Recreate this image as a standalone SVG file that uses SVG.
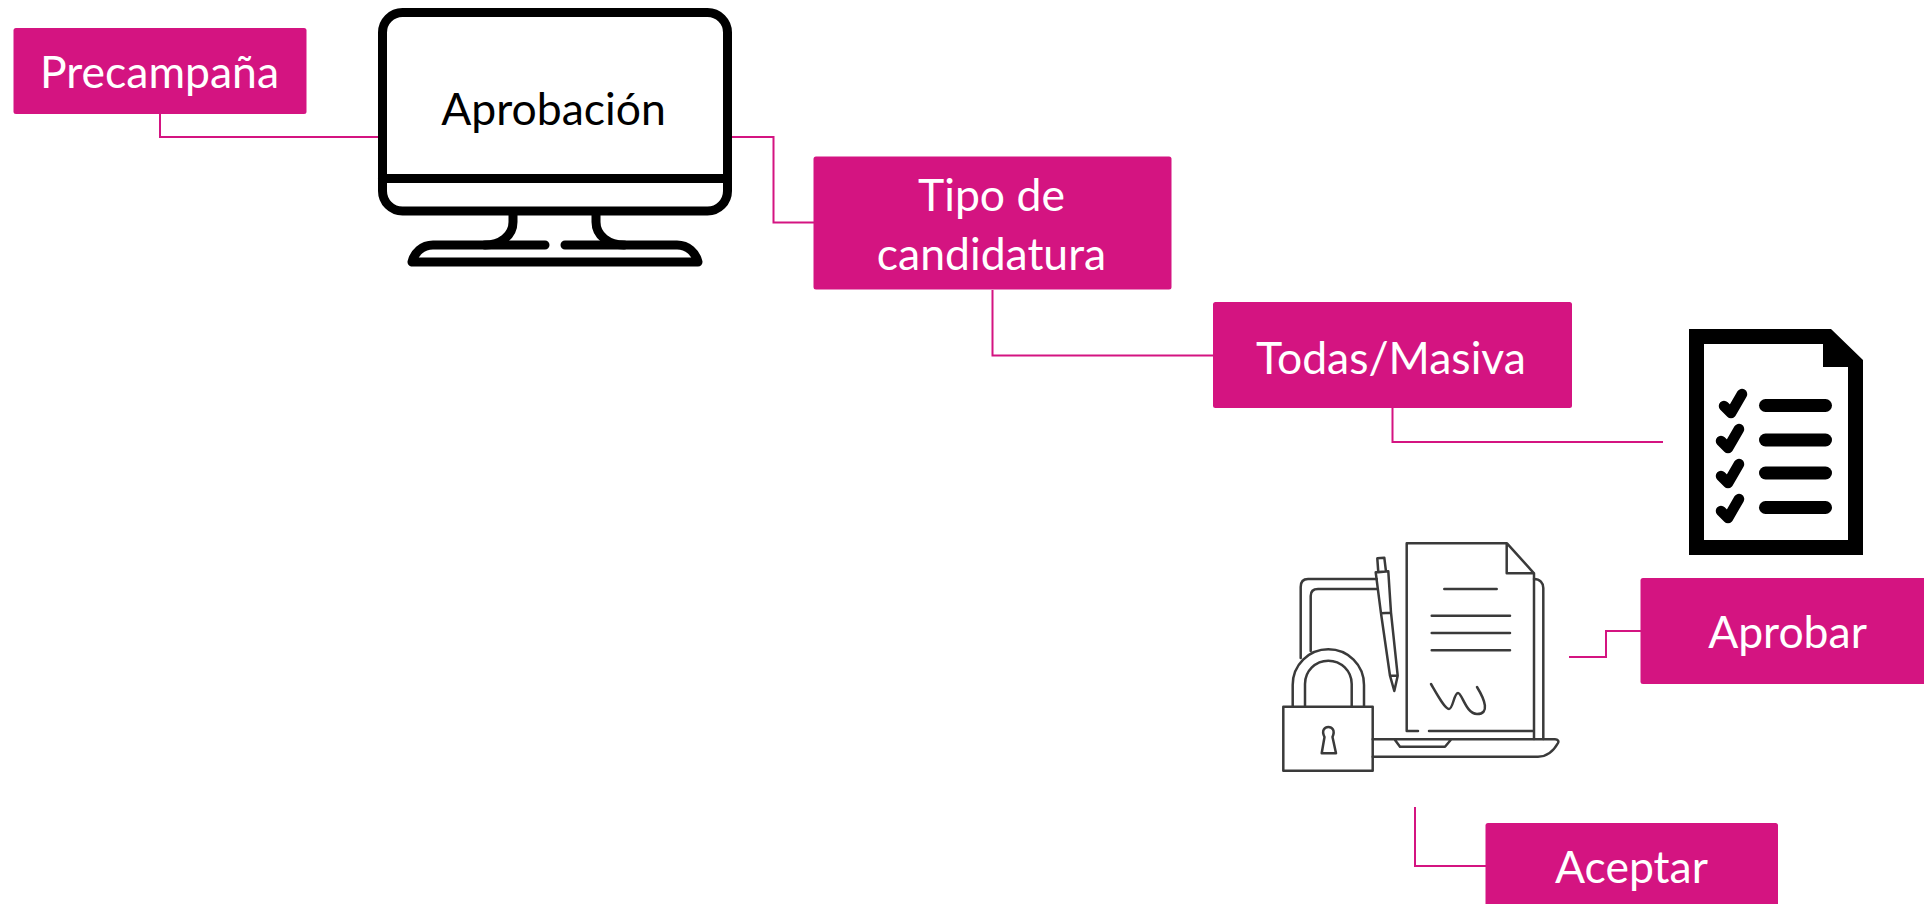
<svg xmlns="http://www.w3.org/2000/svg" width="1924" height="904" viewBox="0 0 1924 904">
<style>
.box{fill:#d41481}
.lbl{font-family:"Lato","Liberation Sans",sans-serif;font-size:44.500px;fill:#fff;text-anchor:middle}
.blk{fill:#000}
.conn{fill:none;stroke:#d41481;stroke-width:2}
.mon{fill:none;stroke:#000;stroke-width:9;stroke-linecap:round;stroke-linejoin:round}
.ico{fill:none;stroke:#3a3a3a;stroke-width:2.500;stroke-linecap:round;stroke-linejoin:round}
.chk{fill:none;stroke:#000;stroke-width:10.500;stroke-linecap:round;stroke-linejoin:round}
.bar{fill:#000}
</style>
<rect width="1924" height="904" fill="#fff"/>
<g id="connectors">
<path class="conn" d="M160 114V137H378"/>
<path class="conn" d="M732 137H773.500V222.500H814"/>
<path class="conn" d="M992.500 290V355.500H1213"/>
<path class="conn" d="M1392.500 408V442H1663"/>
<path class="conn" d="M1569 657H1606V631H1641"/>
<path class="conn" d="M1415 807V866H1486"/>
</g>
<g id="precampana">
<rect class="box" x="13.500" y="28" width="293" height="86" rx="2.500"/>
<text class="lbl" x="159.500" y="88">Precampaña</text>
</g>
<g id="aprobacion">
<rect class="mon" x="382.500" y="12.500" width="345" height="198.500" rx="20"/>
<path class="mon" d="M382.500 178.500H727.500"/>
<path class="mon" d="M513 215V222C513 236 500 245 485 245M596 215V222C596 236 609 245 624 245"/>
<path class="mon" d="M545 245H433C422 245 414 253 412 262H698C696 253 688 245 677 245H565"/>
<text x="553.500" y="125" font-family="Lato,'Liberation Sans',sans-serif" font-size="44.500px" fill="#000" text-anchor="middle">Aprobación</text>
</g>
<g id="tipo-candidatura">
<rect class="box" x="813.500" y="156.500" width="358" height="133" rx="2.500"/>
<text class="lbl" x="991.500" y="211">Tipo de</text>
<text class="lbl" x="991.500" y="269.500">candidatura</text>
</g>
<g id="todas-masiva">
<rect class="box" x="1213" y="302" width="359" height="106" rx="2.500"/>
<text class="lbl" x="1391" y="374">Todas/Masiva</text>
</g>
<g id="checklist">
<path class="blk" fill-rule="evenodd" d="M1689 329H1831L1863 360V555H1689ZM1704 344V540H1848V367H1823V344Z"/>
<rect class="bar" x="1759" y="399" width="73" height="13" rx="6.500"/>
<rect class="bar" x="1759" y="433.500" width="73" height="13" rx="6.500"/>
<rect class="bar" x="1759" y="466.500" width="73" height="13" rx="6.500"/>
<rect class="bar" x="1759" y="501" width="73" height="13" rx="6.500"/>
<path class="chk" d="M1724 406L1731 413L1742 394"/>
<path class="chk" d="M1721 441L1728 448L1739 429"/>
<path class="chk" d="M1721 476L1728 483L1739 464"/>
<path class="chk" d="M1721 511L1728 518L1739 499"/>
</g>
<g id="firma-icono">
<path class="ico" d="M1418 731H1406.700V543.300H1507L1534 573.300V739M1429 731H1534M1506.700 543.300V573.300H1534"/>
<path class="ico" d="M1444.300 589H1496.700M1431.700 615.700H1510M1431.700 633H1510M1431.700 650.300H1510"/>
<path class="ico" d="M1431 684C1438 696 1445 709 1449 709C1453 709 1454 693 1458 693C1462 693 1466 714 1477 714C1490 714 1485 700 1477 687"/>
<path class="ico" d="M1300.700 658V587C1300.700 582 1303 579 1308 579H1376.700M1310.700 651V596C1310.700 591 1313 589 1318 589H1377.500M1534 579C1540 579 1543.300 583 1543.300 588V739"/>
<path class="ico" d="M1372.700 739.300H1555C1558 739.300 1559 741 1558 743C1553 752 1547 756.700 1538 756.700H1372.700M1395 740L1400 746.700H1445L1450.700 740"/>
<rect class="ico" x="1283.300" y="706.700" width="89.400" height="64"/>
<path class="ico" d="M1292.700 706V685C1292.700 665 1308.700 649.300 1328.300 649.300C1348 649.300 1364 665 1364 685V706M1305 706V684C1305 671 1315.500 660.700 1328.300 660.700C1341 660.700 1351.700 671 1351.700 684V706"/>
<path class="ico" d="M1321.700 753.300L1324.500 737C1321 730 1325 727 1328.300 727C1332 727 1335.500 730 1332.500 737L1336 753.300Z"/>
<path class="ico" d="M1377.300 558.300L1384.300 557.700L1386 571.500L1378.300 572.300ZM1375.700 572.300L1388.300 571.300L1391 612.700L1381 613.300ZM1381 613.300L1390 675.700L1394.300 691L1397.700 675.700L1391 612.700M1390 675.700H1397.700"/>
</g>
<g id="aprobar">
<rect class="box" x="1640.500" y="578" width="290" height="106" rx="2.500"/>
<text class="lbl" x="1787.500" y="648">Aprobar</text>
</g>
<g id="aceptar">
<rect class="box" x="1485.500" y="823" width="292.500" height="100" rx="2.500"/>
<text class="lbl" x="1631.500" y="883">Aceptar</text>
</g>
</svg>
